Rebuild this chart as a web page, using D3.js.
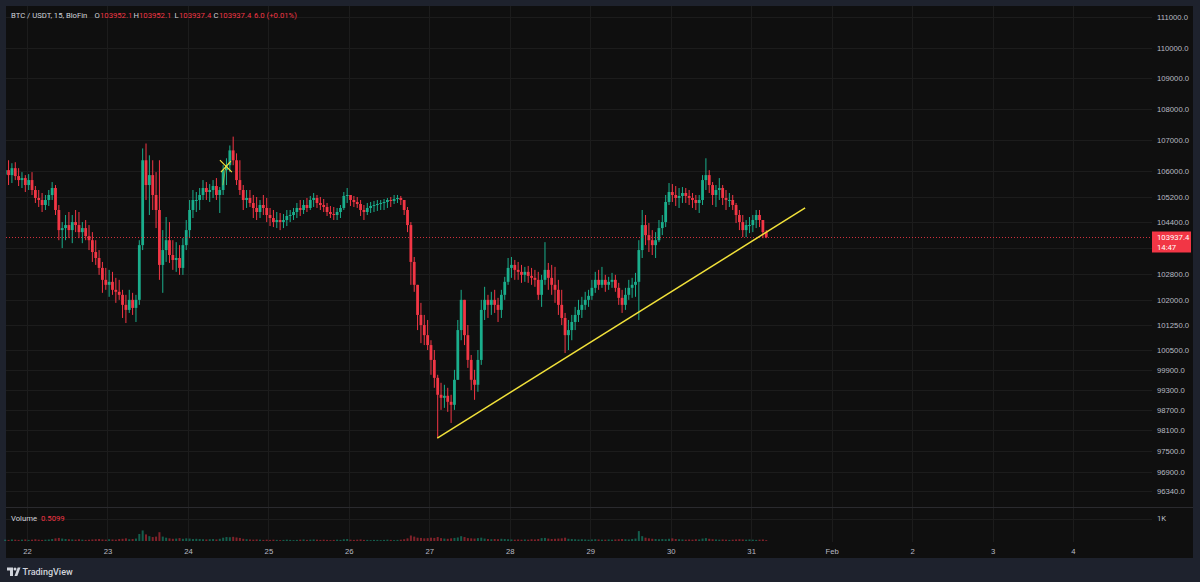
<!DOCTYPE html>
<html>
<head>
<meta charset="utf-8">
<script src="https://cdn.jsdelivr.net/npm/d3@7"></script>
<style>
  html, body { margin: 0; padding: 0; background: #1e222d; }
  svg { display: block; font-family: Roboto, "Noto Sans", sans-serif; }
</style>
</head>
<body>
<svg id="chart"></svg>
<script>
// hourly candles, first one starts Jan 21 17:00 UTC
const firstOpen = 105900;
const highs = [
  106292,106355,106261,106292,106104,105978,105884,105915,105978,105539,
  105413,105319,105256,105413,105664,105570,104942,104408,104628,104722,
  104628,104785,104722,104408,104471,104314,104094,103843,103537,103170,
  102986,102925,102864,102680,102619,102313,102160,102313,102221,102160,
  103843,106732,106889,106512,106355,105978,106355,104157,104565,104408,
  103843,103782,103690,103906,104471,105099,105413,105350,105476,105727,
  105664,105601,105727,105790,105507,106198,106418,106826,107109,106575,
  106355,105570,105413,105413,105256,105193,105099,105256,105162,104848,
  104785,104722,104691,104659,104785,104785,104848,105005,105099,105099,
  105162,105225,105319,105256,105193,105130,105005,104911,104879,104848,
  104942,105350,105476,105256,105225,105193,105099,104942,105005,105036,
  105068,105099,105099,105130,105162,105193,105256,105256,105225,105099,
  104879,104408,103323,102313,101915,101548,101395,100783,100488,99746,
  99508,99449,99359,99152,99894,101395,102313,102007,101242,100340,
  99894,100488,102007,102405,102160,102252,102313,102068,102313,102711,
  103292,103323,103231,103170,103078,103017,103047,102986,102925,102864,
  102772,103782,103139,103078,103017,102619,102313,101609,101395,101548,
  101793,102007,102099,102252,102313,102619,102864,102925,103017,102772,
  102711,102833,102772,102527,102313,102374,102619,102680,102833,103843,
  104785,104628,104377,104157,104094,104471,104628,105256,105633,105601,
  105539,105476,105507,105476,105413,105319,105256,105256,105884,106418,
  106041,105664,105570,105790,105570,105413,105319,105256,105005,104785,
  104628,104471,104565,104628,104785,104785,104408,104157
];
const lows = [
  105727,105570,105633,105727,105539,105476,105350,105413,105256,105005,
  104879,104722,104785,104911,105099,104628,103843,103598,103843,103906,
  103751,104094,103906,103751,103843,103537,103170,103078,102772,102221,
  102313,102099,102160,101915,102007,101456,101303,101609,101548,101334,
  101854,103537,105099,104628,104785,104220,102619,102221,103170,103139,
  102925,102864,102772,102772,103537,103906,104534,104722,104785,105099,
  105099,105036,105162,105099,104691,105256,105570,105978,106198,105570,
  105256,104785,104848,104879,104534,104471,104534,104628,104408,104283,
  104251,104220,104157,104220,104283,104408,104471,104534,104597,104659,
  104722,104785,104879,104848,104785,104722,104597,104534,104471,104471,
  104534,104785,105005,104911,104879,104848,104597,104471,104628,104691,
  104722,104754,104785,104785,104848,104879,104973,105005,104942,104628,
  104094,102466,102252,101089,100696,100637,100488,99746,99359,97874,
  98706,98765,98647,98320,98706,99746,100783,100637,99953,99289,
  99003,99241,100043,101395,101456,101548,101609,101334,101456,102007,
  102466,102680,102619,102619,102527,102558,102527,102466,102405,102007,
  101793,102466,102313,102160,101915,101548,101242,100399,100488,100783,
  101089,101334,101456,101701,101793,102007,102221,102313,102374,102252,
  102313,102374,102252,101854,101609,101701,102007,102068,102099,101395,
  103292,103690,103476,103384,103292,103782,104000,104251,104942,105036,
  104911,104848,105005,105005,104942,104848,104785,104691,104942,105413,
  105319,104942,104879,105099,104942,104785,104879,104785,104377,104157,
  103937,103937,104063,104094,104220,104251,103906,103906
];
const closes = [
  106041,105884,106104,105853,105727,105790,105570,105727,105413,105162,
  105099,104942,105099,105256,105476,104785,104157,104220,104314,104157,
  104408,104314,104094,104220,103969,103843,103476,103292,102986,102619,
  102466,102558,102313,102252,102160,101854,101701,102007,101762,102007,
  103690,106355,105570,105884,105256,104785,103078,103537,103843,103384,
  103231,103292,102986,103690,104157,104785,105099,105099,105256,105476,
  105350,105413,105539,105256,105413,106041,106198,106669,106355,105727,
  105413,105099,105162,105005,104848,104722,104942,104848,104628,104534,
  104408,104471,104408,104471,104597,104628,104722,104848,104785,104942,
  104848,105099,105162,105005,104942,104879,104722,104659,104628,104722,
  104848,105225,105256,105099,105036,104973,104785,104722,104848,104911,
  104942,104973,105005,105036,105099,105068,105130,105162,105099,104785,
  104314,103170,102466,101548,101242,100936,100637,100191,99656,99152,
  99062,99122,98944,98855,99597,101089,102007,100936,100191,99597,
  99449,100191,101701,102007,101854,102007,101854,101701,102160,102558,
  102986,103078,102925,102864,102772,102864,102741,102680,102619,102160,
  102619,102925,102680,102466,102313,101854,101456,100936,101089,101334,
  101548,101701,101854,102007,102129,102374,102619,102466,102619,102466,
  102558,102619,102374,102068,101854,102160,102374,102466,102558,103537,
  104314,104000,103843,103690,103843,104220,104408,105036,105350,105256,
  105162,105225,105319,105225,105162,105099,105005,105099,105727,105884,
  105570,105256,105413,105476,105162,105099,105099,104942,104628,104408,
  104157,104314,104314,104471,104628,104471,104094,103937.4
];
const volumes = [
  60,50,70,60,50,60,70,50,60,80,
  60,50,60,70,90,120,140,110,90,80,
  70,60,80,60,50,60,70,80,90,70,
  60,80,70,60,90,100,120,80,90,110,
  320,480,300,220,180,200,400,200,150,120,
  100,110,130,100,120,110,90,100,90,80,
  70,80,90,70,100,150,180,170,190,160,
  140,100,80,70,60,70,60,50,60,50,
  60,50,40,50,60,50,40,50,60,70,
  50,60,70,60,50,60,50,40,50,60,
  50,80,90,60,50,60,70,50,50,40,
  50,50,40,50,60,50,40,50,60,80,
  120,250,200,150,140,120,130,150,140,180,
  130,110,100,120,140,160,220,180,130,120,
  110,130,150,110,90,80,90,80,100,90,
  80,70,60,70,60,70,60,80,70,90,
  130,140,110,90,100,110,120,150,100,90,
  80,70,80,70,60,70,80,70,60,60,
  70,60,70,80,90,80,70,90,110,450,
  220,150,120,100,90,80,90,80,100,120,
  90,80,70,60,70,60,80,70,110,130,
  100,80,70,60,70,60,50,60,70,80,
  70,60,70,60,50,60,70,40
];

const priceTicks = [111000, 110000, 109000, 108000, 107000, 106000, 105200, 104400, 103600,
  102800, 102000, 101250, 100500, 99900, 99300, 98700, 98100, 97500, 96900, 96340];
const timeTickLabels = ["22", "23", "24", "25", "26", "27", "28", "29", "30", "31", "Feb", "2", "3", "4"];
const timeTicks = d3.utcDay.range(new Date(Date.UTC(2025, 0, 22)), new Date(Date.UTC(2025, 1, 5)));

const legend = { symbol: "BTC / USDT, 15, BloFin", o: "103952.1", h: "103952.1", l: "103937.4", c: "103937.4", chg: "6.0 (+0.01%)" };
const lastPrice = 103937.4;
const countdown = "14:47";
const volumeValue = "0.5099";

// trend line + marker drawn on the chart (time, price)
const trendLine = [
  { t: new Date(Date.UTC(2025, 0, 27, 2, 23)), p: 97874 },
  { t: new Date(Date.UTC(2025, 0, 31, 16, 6)), p: 104848 }
];
const marker = { t: new Date(Date.UTC(2025, 0, 24, 11, 20)), p: 106167 };

const candleStart = Date.UTC(2025, 0, 21, 17, 30);
const candles = closes.map((c, i) => {
  const o = i === 0 ? firstOpen : closes[i - 1];
  return {
    t: new Date(candleStart + i * 3600e3),
    o,
    c,
    h: Math.max(highs[i], o, c),
    l: Math.min(lows[i], o, c),
    v: volumes[i]
  };
});

const W = 1200, H = 582;
const panel = { left: 6, top: 6, right: 1193, bottom: 558 };
const plotRight = 1152;
const paneSep = 507;
const volBase = 541;

const UP = "#1aae8c", DOWN = "#f23645";
const GRID = "#1c1c1c";
const TEXT = "#b8bbc4";
const FS = 7.7;

const svg = d3.select("#chart").attr("width", W).attr("height", H);

svg.append("rect").attr("width", W).attr("height", H).attr("fill", "#1e222d");
svg.append("rect")
  .attr("x", panel.left).attr("y", panel.top)
  .attr("width", panel.right - panel.left).attr("height", panel.bottom - panel.top)
  .attr("fill", "#0f0f0f");

const x = d3.scaleUtc()
  .domain([new Date(Date.UTC(2025, 0, 22)), new Date(Date.UTC(2025, 1, 4))])
  .range([27, 1073]);
const y = d3.scaleLog().domain([96340, 111000]).range([491, 17.3]);
const yv = d3.scaleLinear().domain([0, 1000]).range([volBase, 519]);

const defs = svg.append("defs");
defs.append("clipPath").attr("id", "plot")
  .append("rect").attr("x", panel.left).attr("y", panel.top)
  .attr("width", plotRight - panel.left).attr("height", paneSep - panel.top);

// grid
const grid = svg.append("g");
grid.selectAll(".vg").data(timeTicks).join("line")
  .attr("x1", (d) => Math.round(x(d)) + 0.5).attr("x2", (d) => Math.round(x(d)) + 0.5)
  .attr("y1", panel.top).attr("y2", volBase + 1)
  .attr("stroke", GRID);
grid.selectAll(".hg").data(priceTicks).join("line")
  .attr("x1", panel.left).attr("x2", plotRight)
  .attr("y1", (d) => Math.round(y(d)) + 0.5).attr("y2", (d) => Math.round(y(d)) + 0.5)
  .attr("stroke", GRID);
grid.append("line")
  .attr("x1", panel.left).attr("x2", plotRight)
  .attr("y1", Math.round(yv(1000)) + 0.5).attr("y2", Math.round(yv(1000)) + 0.5)
  .attr("stroke", GRID);
svg.append("line")
  .attr("x1", panel.left).attr("x2", panel.right)
  .attr("y1", paneSep + 0.5).attr("y2", paneSep + 0.5)
  .attr("stroke", "#2a2a2e");

// candles
const bw = 2.8;
const cg = svg.append("g").attr("clip-path", "url(#plot)");
const cand = cg.selectAll("g").data(candles).join("g")
  .attr("fill", (d) => (d.c >= d.o ? UP : DOWN))
  .attr("stroke", (d) => (d.c >= d.o ? UP : DOWN));
cand.append("line")
  .attr("x1", (d) => x(d.t)).attr("x2", (d) => x(d.t))
  .attr("y1", (d) => y(d.h)).attr("y2", (d) => y(d.l))
  .attr("stroke-width", 1);
cand.append("rect")
  .attr("stroke", "none")
  .attr("x", (d) => x(d.t) - bw / 2).attr("width", bw)
  .attr("y", (d) => y(Math.max(d.o, d.c)))
  .attr("height", (d) => Math.max(1, Math.abs(y(d.o) - y(d.c))));

// volume
svg.append("g").selectAll("rect").data(candles).join("rect")
  .attr("x", (d) => x(d.t) - 1).attr("width", 2)
  .attr("y", (d) => yv(d.v)).attr("height", (d) => volBase - yv(d.v))
  .attr("fill", (d) => (d.c >= d.o ? UP : DOWN))
  .attr("opacity", 0.5);

// last price line
const yLast = Math.round(y(lastPrice)) + 0.5;
svg.append("line")
  .attr("x1", panel.left).attr("x2", plotRight)
  .attr("y1", yLast).attr("y2", yLast)
  .attr("stroke", DOWN).attr("stroke-dasharray", "1,2").attr("opacity", 0.85);

// drawings
const ann = svg.append("g").attr("stroke", "#f2e23a").attr("fill", "none");
ann.append("line")
  .attr("x1", x(trendLine[0].t)).attr("y1", y(trendLine[0].p))
  .attr("x2", x(trendLine[1].t)).attr("y2", y(trendLine[1].p))
  .attr("stroke-width", 1.5);
const mx = x(marker.t), my = y(marker.p);
ann.append("path")
  .attr("d", `M${mx - 6},${my - 6}L${mx + 6},${my + 6}M${mx + 5},${my - 5}L${mx - 5},${my + 6}`)
  .attr("stroke-width", 1.2);
ann.append("line")
  .attr("x1", mx).attr("y1", my).attr("x2", mx - 3).attr("y2", my + 19)
  .attr("stroke-width", 1).attr("opacity", 0.5);

// price axis
const yAxis = d3.axisRight(y)
  .tickValues(priceTicks.filter((d) => Math.abs(y(d) - y(lastPrice)) > 12))
  .tickFormat((d) => d.toFixed(1))
  .tickSize(0).tickPadding(5);
const gy = svg.append("g").attr("transform", `translate(${plotRight},0)`).call(yAxis);
gy.select(".domain").remove();
gy.selectAll("text").attr("fill", TEXT).attr("font-size", FS).attr("font-family", null);

svg.append("text").attr("x", plotRight + 5).attr("y", yv(1000)).attr("dy", "0.32em")
  .attr("fill", TEXT).attr("font-size", FS).text("1K");

// time axis
const xAxis = d3.axisBottom(x)
  .tickValues(timeTicks)
  .tickFormat((d, i) => timeTickLabels[i])
  .tickSize(0).tickPadding(0);
const gx = svg.append("g").attr("transform", "translate(0,549)").call(xAxis);
gx.select(".domain").remove();
gx.selectAll("text").attr("fill", TEXT).attr("font-size", FS).attr("font-family", null);

// last price tag
const tag = svg.append("g");
tag.append("rect").attr("x", plotRight).attr("y", 231.5).attr("width", 39).attr("height", 21)
  .attr("fill", DOWN);
tag.append("text").attr("x", plotRight + 5).attr("y", 240.3)
  .attr("fill", "#ffffff").attr("font-size", FS).text(lastPrice.toFixed(1));
tag.append("text").attr("x", plotRight + 5).attr("y", 250.3)
  .attr("fill", "#ffffff").attr("font-size", FS).text(countdown);

// legend
const lg = svg.append("g").attr("font-size", FS);
const legendParts = [
  { t: legend.symbol, x: 11, c: "#d1d4dc" },
  { t: "O", x: 94.5, c: "#d1d4dc" }, { t: legend.o, x: 100, c: DOWN },
  { t: "H", x: 133.5, c: "#d1d4dc" }, { t: legend.h, x: 139, c: DOWN },
  { t: "L", x: 174.5, c: "#d1d4dc" }, { t: legend.l, x: 179, c: DOWN },
  { t: "C", x: 213.5, c: "#d1d4dc" }, { t: legend.c, x: 219, c: DOWN },
  { t: legend.chg, x: 254, c: DOWN }
];
lg.selectAll("text").data(legendParts).join("text")
  .attr("x", (d) => d.x).attr("y", 17.7)
  .attr("fill", (d) => d.c).text((d) => d.t);

svg.append("text").attr("x", 11).attr("y", 520.6).attr("font-size", FS)
  .attr("fill", "#d1d4dc").text("Volume");
svg.append("text").attr("x", 41).attr("y", 520.6).attr("font-size", FS)
  .attr("fill", DOWN).text(volumeValue);

// footer logo
const logo = svg.append("g").attr("fill", "#d1d4dc");
logo.append("path").attr("d", "M7,567.5h6v8.5h-3v-5.5h-3z");
logo.append("circle").attr("cx", 15).attr("cy", 569).attr("r", 1.5);
logo.append("path").attr("d", "M14.5,576l3.2,-8.5h2.8l-3.2,8.5z");
logo.append("text").attr("x", 22.5).attr("y", 575).attr("font-size", 9)
  .attr("font-weight", 500).text("TradingView");
</script>
</body>
</html>
